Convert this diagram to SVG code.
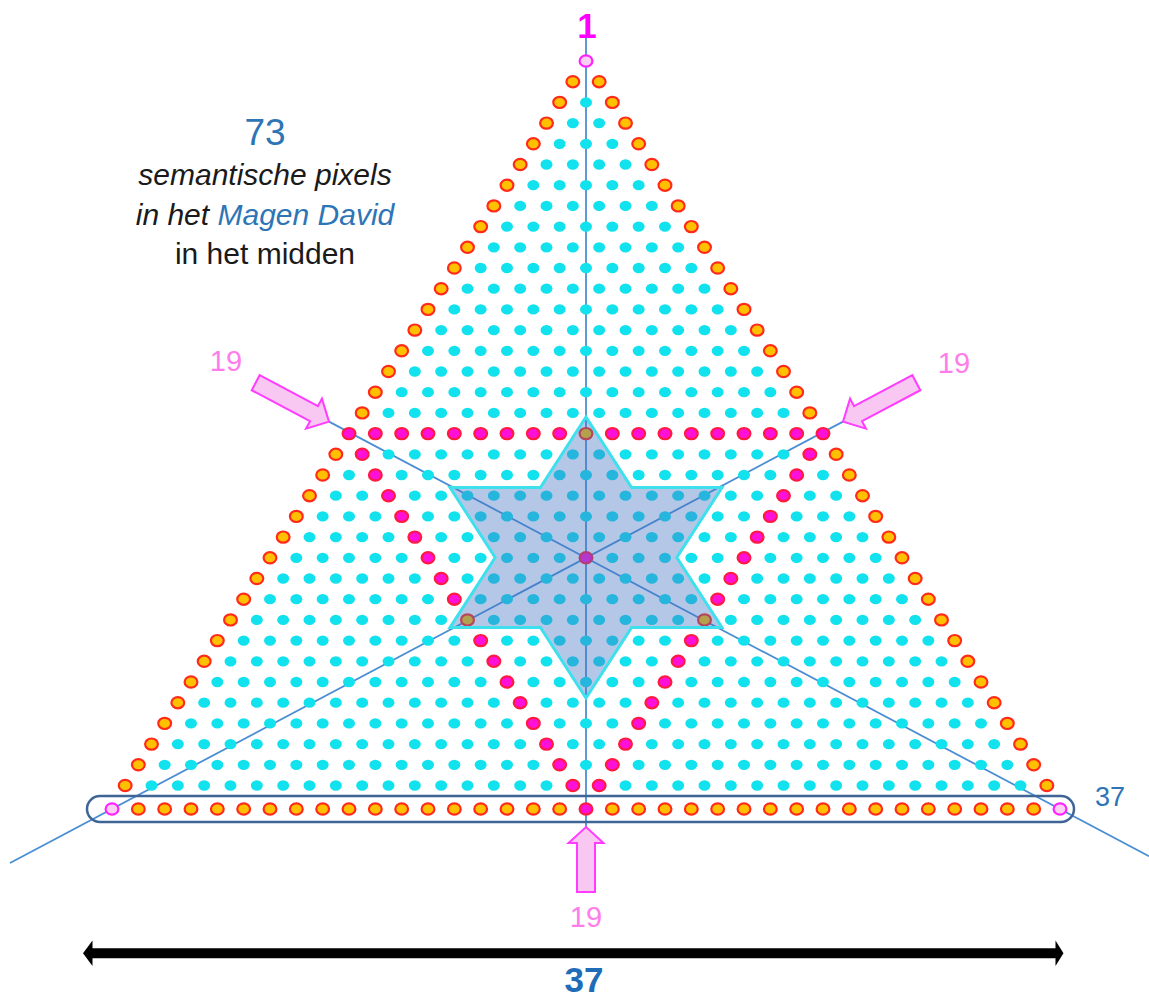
<svg xmlns="http://www.w3.org/2000/svg" width="1149" height="998" viewBox="0 0 1149 998">
<defs>
<style>
.ln{stroke:#4A8ED4;stroke-width:1.8;fill:none}
.cy{stroke:#12E2EE;stroke-width:12;stroke-linecap:round;stroke-dasharray:0.01 26.3233;fill:none}
.or{fill:#FFC000;stroke:#FF2A1A;stroke-width:2.2}
.mg{fill:#FF10D8;stroke:#FF1A40;stroke-width:2.2}
.pk{fill:#F9CFF4;stroke:#FF22FF;stroke-width:2.2}
.pa{fill:#F9C8F2;stroke:#FF3CFF;stroke-width:2;stroke-linejoin:miter}
.star{fill:#4472C4;fill-opacity:0.4;stroke:#3EE0EE;stroke-width:3;stroke-linejoin:miter}
.t{font-family:"Liberation Sans",Arial,sans-serif;text-anchor:middle}
.lab19{font-size:29px;fill:#FF7DEA}
.blk{fill:#1A1A1A;font-size:30px}
.blue{fill:#2E75B6}
</style>
<ellipse id="o" class="or" rx="6.4" ry="5.6"/>
<ellipse id="m" class="mg" rx="6.4" ry="5.6"/>
<ellipse id="p" class="pk" rx="6.4" ry="5.6"/>
<polygon id="arr" class="pa" points="-83,-8.5 -17,-8.5 -17,-17 0,0 -17,17 -17,8.5 -83,8.5"/>
</defs>
<rect width="1149" height="998" fill="#FFFFFF"/>

<g id="connectors">
<line class="ln" x1="586" y1="38" x2="586" y2="827"/>
<line class="ln" x1="10" y1="863" x2="843" y2="421.6"/>
<line class="ln" x1="1149" y1="856.2" x2="329" y2="421.6"/>
</g>

<g id="cyan-dots" transform="translate(0 61) scale(1 0.86)">
<line class="cy" x1="586" y1="48.140" x2="586.5" y2="48.140"/>
<line class="cy" x1="572.83" y1="72.209" x2="599.67" y2="72.209"/>
<line class="cy" x1="559.67" y1="96.279" x2="612.83" y2="96.279"/>
<line class="cy" x1="546.5" y1="120.349" x2="626" y2="120.349"/>
<line class="cy" x1="533.33" y1="144.419" x2="639.17" y2="144.419"/>
<line class="cy" x1="520.17" y1="168.489" x2="652.33" y2="168.489"/>
<line class="cy" x1="507" y1="192.558" x2="665.5" y2="192.558"/>
<line class="cy" x1="493.83" y1="216.628" x2="678.67" y2="216.628"/>
<line class="cy" x1="480.67" y1="240.698" x2="691.83" y2="240.698"/>
<line class="cy" x1="467.5" y1="264.768" x2="705" y2="264.768"/>
<line class="cy" x1="454.33" y1="288.838" x2="718.17" y2="288.838"/>
<line class="cy" x1="441.17" y1="312.907" x2="731.33" y2="312.907"/>
<line class="cy" x1="428" y1="336.977" x2="744.5" y2="336.977"/>
<line class="cy" x1="414.83" y1="361.047" x2="757.67" y2="361.047"/>
<line class="cy" x1="401.67" y1="385.117" x2="770.83" y2="385.117"/>
<line class="cy" x1="388.5" y1="409.187" x2="784" y2="409.187"/>
<line class="cy" x1="362.17" y1="457.326" x2="810.33" y2="457.326"/>
<line class="cy" x1="349" y1="481.396" x2="823.5" y2="481.396"/>
<line class="cy" x1="335.83" y1="505.466" x2="836.67" y2="505.466"/>
<line class="cy" x1="322.67" y1="529.536" x2="849.83" y2="529.536"/>
<line class="cy" x1="309.5" y1="553.605" x2="863" y2="553.605"/>
<line class="cy" x1="296.33" y1="577.675" x2="876.17" y2="577.675"/>
<line class="cy" x1="283.17" y1="601.745" x2="889.33" y2="601.745"/>
<line class="cy" x1="270" y1="625.815" x2="902.5" y2="625.815"/>
<line class="cy" x1="256.83" y1="649.885" x2="915.67" y2="649.885"/>
<line class="cy" x1="243.67" y1="673.954" x2="928.83" y2="673.954"/>
<line class="cy" x1="230.5" y1="698.024" x2="942" y2="698.024"/>
<line class="cy" x1="217.33" y1="722.094" x2="955.17" y2="722.094"/>
<line class="cy" x1="204.17" y1="746.164" x2="968.33" y2="746.164"/>
<line class="cy" x1="191" y1="770.234" x2="981.5" y2="770.234"/>
<line class="cy" x1="177.83" y1="794.303" x2="994.67" y2="794.303"/>
<line class="cy" x1="164.67" y1="818.373" x2="1007.83" y2="818.373"/>
<line class="cy" x1="151.5" y1="842.443" x2="1021" y2="842.443"/>
</g>

<g id="edge-dots">
<use href="#p" x="586" y="61"/>
<use href="#o" x="572.83" y="81.7"/><use href="#o" x="599.17" y="81.7"/>
<use href="#o" x="559.67" y="102.4"/><use href="#o" x="612.33" y="102.4"/>
<use href="#o" x="546.5" y="123.1"/><use href="#o" x="625.5" y="123.1"/>
<use href="#o" x="533.33" y="143.8"/><use href="#o" x="638.67" y="143.8"/>
<use href="#o" x="520.17" y="164.5"/><use href="#o" x="651.83" y="164.5"/>
<use href="#o" x="507" y="185.2"/><use href="#o" x="665" y="185.2"/>
<use href="#o" x="493.83" y="205.9"/><use href="#o" x="678.17" y="205.9"/>
<use href="#o" x="480.67" y="226.6"/><use href="#o" x="691.33" y="226.6"/>
<use href="#o" x="467.5" y="247.3"/><use href="#o" x="704.5" y="247.3"/>
<use href="#o" x="454.33" y="268"/><use href="#o" x="717.67" y="268"/>
<use href="#o" x="441.17" y="288.7"/><use href="#o" x="730.83" y="288.7"/>
<use href="#o" x="428" y="309.4"/><use href="#o" x="744" y="309.4"/>
<use href="#o" x="414.83" y="330.1"/><use href="#o" x="757.17" y="330.1"/>
<use href="#o" x="401.67" y="350.8"/><use href="#o" x="770.33" y="350.8"/>
<use href="#o" x="388.5" y="371.5"/><use href="#o" x="783.5" y="371.5"/>
<use href="#o" x="375.33" y="392.2"/><use href="#o" x="796.67" y="392.2"/>
<use href="#o" x="362.17" y="412.9"/><use href="#o" x="809.83" y="412.9"/>
<use href="#o" x="335.83" y="454.3"/><use href="#o" x="836.17" y="454.3"/>
<use href="#o" x="322.67" y="475"/><use href="#o" x="849.33" y="475"/>
<use href="#o" x="309.5" y="495.7"/><use href="#o" x="862.5" y="495.7"/>
<use href="#o" x="296.33" y="516.4"/><use href="#o" x="875.67" y="516.4"/>
<use href="#o" x="283.17" y="537.1"/><use href="#o" x="888.83" y="537.1"/>
<use href="#o" x="270" y="557.8"/><use href="#o" x="902" y="557.8"/>
<use href="#o" x="256.83" y="578.5"/><use href="#o" x="915.17" y="578.5"/>
<use href="#o" x="243.67" y="599.2"/><use href="#o" x="928.33" y="599.2"/>
<use href="#o" x="230.5" y="619.9"/><use href="#o" x="941.5" y="619.9"/>
<use href="#o" x="217.33" y="640.6"/><use href="#o" x="954.67" y="640.6"/>
<use href="#o" x="204.17" y="661.3"/><use href="#o" x="967.83" y="661.3"/>
<use href="#o" x="191" y="682"/><use href="#o" x="981" y="682"/>
<use href="#o" x="177.83" y="702.7"/><use href="#o" x="994.17" y="702.7"/>
<use href="#o" x="164.67" y="723.4"/><use href="#o" x="1007.33" y="723.4"/>
<use href="#o" x="151.5" y="744.1"/><use href="#o" x="1020.5" y="744.1"/>
<use href="#o" x="138.33" y="764.8"/><use href="#o" x="1033.67" y="764.8"/>
<use href="#o" x="125.17" y="785.5"/><use href="#o" x="1046.83" y="785.5"/>
</g>

<g id="bottom-row">
<use href="#p" x="112" y="809"/>
<use href="#o" x="138.33" y="809"/><use href="#o" x="164.67" y="809"/><use href="#o" x="191" y="809"/>
<use href="#o" x="217.33" y="809"/><use href="#o" x="243.67" y="809"/><use href="#o" x="270" y="809"/>
<use href="#o" x="296.33" y="809"/><use href="#o" x="322.67" y="809"/><use href="#o" x="349" y="809"/>
<use href="#o" x="375.33" y="809"/><use href="#o" x="401.67" y="809"/><use href="#o" x="428" y="809"/>
<use href="#o" x="454.33" y="809"/><use href="#o" x="480.67" y="809"/><use href="#o" x="507" y="809"/>
<use href="#o" x="533.33" y="809"/><use href="#o" x="559.67" y="809"/>
<use href="#m" x="586" y="809"/>
<use href="#o" x="612.33" y="809"/><use href="#o" x="638.67" y="809"/><use href="#o" x="665" y="809"/>
<use href="#o" x="691.33" y="809"/><use href="#o" x="717.67" y="809"/><use href="#o" x="744" y="809"/>
<use href="#o" x="770.33" y="809"/><use href="#o" x="796.67" y="809"/><use href="#o" x="823" y="809"/>
<use href="#o" x="849.33" y="809"/><use href="#o" x="875.67" y="809"/><use href="#o" x="902" y="809"/>
<use href="#o" x="928.33" y="809"/><use href="#o" x="954.67" y="809"/><use href="#o" x="981" y="809"/>
<use href="#o" x="1007.33" y="809"/><use href="#o" x="1033.67" y="809"/>
<use href="#p" x="1060" y="809"/>
</g>

<g id="magenta-triangle">
<use href="#m" x="349" y="433.6"/><use href="#m" x="375.33" y="433.6"/><use href="#m" x="401.67" y="433.6"/>
<use href="#m" x="428" y="433.6"/><use href="#m" x="454.33" y="433.6"/><use href="#m" x="480.67" y="433.6"/>
<use href="#m" x="507" y="433.6"/><use href="#m" x="533.33" y="433.6"/><use href="#m" x="559.67" y="433.6"/>
<use href="#m" x="612.33" y="433.6"/><use href="#m" x="638.67" y="433.6"/><use href="#m" x="665" y="433.6"/>
<use href="#m" x="691.33" y="433.6"/><use href="#m" x="717.67" y="433.6"/><use href="#m" x="744" y="433.6"/>
<use href="#m" x="770.33" y="433.6"/><use href="#m" x="796.67" y="433.6"/><use href="#m" x="823" y="433.6"/>
<use href="#m" x="362.17" y="454.3"/><use href="#m" x="809.83" y="454.3"/>
<use href="#m" x="375.33" y="475"/><use href="#m" x="796.67" y="475"/>
<use href="#m" x="388.5" y="495.7"/><use href="#m" x="783.5" y="495.7"/>
<use href="#m" x="401.67" y="516.4"/><use href="#m" x="770.33" y="516.4"/>
<use href="#m" x="414.83" y="537.1"/><use href="#m" x="757.17" y="537.1"/>
<use href="#m" x="428" y="557.8"/><use href="#m" x="744" y="557.8"/>
<use href="#m" x="441.17" y="578.5"/><use href="#m" x="730.83" y="578.5"/>
<use href="#m" x="454.33" y="599.2"/><use href="#m" x="717.67" y="599.2"/>
<use href="#m" x="480.67" y="640.6"/><use href="#m" x="691.33" y="640.6"/>
<use href="#m" x="493.83" y="661.3"/><use href="#m" x="678.17" y="661.3"/>
<use href="#m" x="507" y="682"/><use href="#m" x="665" y="682"/>
<use href="#m" x="520.17" y="702.7"/><use href="#m" x="651.83" y="702.7"/>
<use href="#m" x="533.33" y="723.4"/><use href="#m" x="638.67" y="723.4"/>
<use href="#m" x="546.5" y="744.1"/><use href="#m" x="625.5" y="744.1"/>
<use href="#m" x="559.67" y="764.8"/><use href="#m" x="612.33" y="764.8"/>
<use href="#m" x="572.83" y="785.5"/><use href="#m" x="599.17" y="785.5"/>
</g>

<g id="star-points">
<use href="#o" x="586" y="433.6"/>
<use href="#o" x="467.5" y="619.9"/>
<use href="#o" x="704.5" y="619.9"/>
<use href="#m" x="586" y="557.8"/>
</g>

<g id="magen-david">
<path class="star" d="M586,417 L631.6,487.5 L722,487.5 L676.8,557.5 L722,627.5 L631.6,627.5 L586,698 L540.4,627.5 L450,627.5 L495.2,557.5 L450,487.5 L540.4,487.5 Z"/>
</g>

<g id="bottom-row-frame">
<rect x="87" y="796" width="987" height="26" rx="13" ry="13" fill="none" stroke="#3F6596" stroke-width="2.5"/>
</g>

<g id="pointer-arrows">
<use href="#arr" transform="translate(329 421.6) rotate(27.92)"/>
<use href="#arr" transform="translate(843 421.6) rotate(152.08)"/>
<polygon class="pa" points="586,827 603.5,843 595,843 595,892 577,892 577,843 568.5,843"/>
</g>

<g id="width-arrow">
<line x1="90" y1="953.3" x2="1058" y2="953.3" stroke="#000000" stroke-width="10"/>
<polygon points="83,953.3 92.5,940.5 92.5,966" fill="#000000"/>
<polygon points="1063.5,953.3 1055.5,940.5 1055.5,966" fill="#000000"/>
</g>

<g id="labels" class="t">
<text x="587" y="38" font-size="35" font-weight="bold" fill="#FF00FF">1</text>
<text x="265" y="145" font-size="37" class="blue">73</text>
<text x="265" y="185" class="blk" font-style="italic" font-size="29.5">semantische pixels</text>
<text x="265" y="225" class="blk" font-style="italic">in het <tspan class="blue">Magen David</tspan></text>
<text x="265" y="264" class="blk">in het midden</text>
<text x="226" y="371" class="lab19">19</text>
<text x="954" y="373" class="lab19">19</text>
<text x="586" y="927" class="lab19">19</text>
<text x="1110" y="806" font-size="27" class="blue">37</text>
<text x="584" y="992" font-size="35" font-weight="bold" fill="#1F6DB8">37</text>
</g>
</svg>
